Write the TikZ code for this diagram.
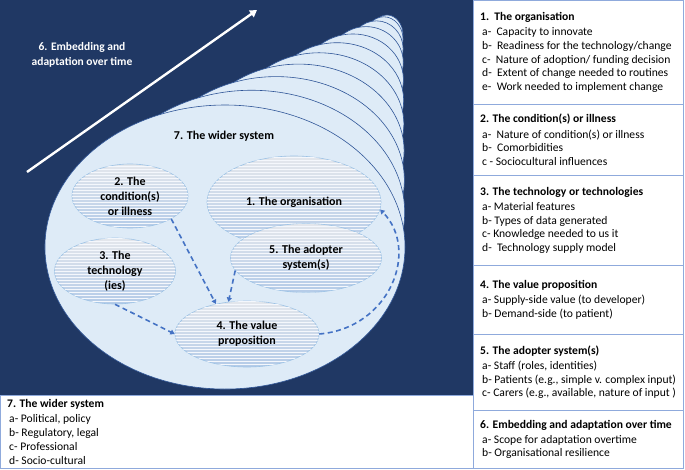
\documentclass[tikz,border=0pt]{standalone}
\usepackage{fontspec}
\setmainfont{Carlito}
\usetikzlibrary{shapes.geometric}
\usetikzlibrary{arrows.meta}
\usetikzlibrary{patterns}

\definecolor{navy}{HTML}{203864}
\definecolor{conefill}{HTML}{DEEBF7}
\definecolor{coneline}{HTML}{2F5597}
\definecolor{factorline}{HTML}{9DC3E6}
\definecolor{factortop}{HTML}{E4E7EC}
\definecolor{factorbot}{HTML}{B4CBE8}
\definecolor{linkblue}{HTML}{4472C4}
\definecolor{boxline}{HTML}{8FAADC}

\tikzset{
  cone/.style={fill=conefill, draw=coneline, line width=0.6pt},
  factor/.style={ellipse, draw=factorline, line width=0.6pt, top color=factortop, bottom color=factorbot,
    postaction={pattern=horizontal lines, pattern color=white!85!factorbot}, inner sep=0pt, align=center,
    font=\fontsize{12}{15}\selectfont\bfseries},
  link/.style={draw=linkblue, line width=1.6pt, dash pattern=on 5pt off 3.5pt},
  infobox/.style={draw=boxline, line width=0.8pt, fill=white, anchor=north west, inner sep=0pt},
  infotext/.style={anchor=west, align=left, inner sep=0pt, font=\fontsize{11.6}{13.7}\selectfont},
}

\begin{document}
\begin{tikzpicture}[x=1pt, y=-1pt]

            %\draw [help lines] (0,0) grid (685,470);
            \useasboundingbox (0,0) rectangle (685,470);

            \fill[navy] (0,0) rectangle (473,395);

            % the cone, back to front
            \foreach \i in {10,...,0} {
                \pgfmathsetmacro{\t}{1-((10.001-\i)/10)^1.7}
                \draw[cone] ({225+162*\t},{247-212*\t}) ellipse [x radius={180-164*\t}, y radius={142-122*\t}];
            }

            \path   (224,136) node (wider) [font=\fontsize{12}{15}\selectfont\bfseries] {7. The wider system}
                    (82,55) node (embed) [white, align=center, font=\fontsize{11.5}{15}\selectfont\bfseries] {6. Embedding and\\adaptation over time}
                    (130,196) node (cond) [factor, minimum width=116, minimum height=64] {2. The\\condition(s)\\or illness}
                    (115,271) node (tech) [factor, minimum width=121, minimum height=66] {3. The\\technology\\(ies)}
                    (294,202) node (org) [factor, minimum width=174, minimum height=92] {1. The organisation}
                    (306,258) node (adopt) [factor, minimum width=151, minimum height=69] {5. The adopter\\system(s)}
                    (247,334) node (value) [factor, minimum width=144, minimum height=66] {4. The value\\proposition};

            \coordinate (tstart) at (27,172);
            \coordinate (tend) at (257,10);
            \draw[arrows = -{Triangle[angle=60:8pt]}, white, line width=2.4pt] (tstart) -- (tend);

            \draw[link, arrows = -{Triangle[angle=60:5pt]}] (cond.south east) -- (value.136);
            \draw[link, arrows = -{Triangle[angle=60:5pt]}] (adopt.190) -- (value.120);
            \draw[link, arrows = -{Triangle[angle=60:5pt]}] (tech.south) -- (value.west);
            \draw[link, arrows = -{Triangle[angle=60:5pt]}] (value.east) .. controls (390,328) and (420,250) .. (org.-5);

            % the lists
            \path   (473,0) node (box1) [infobox, minimum width=210, minimum height=104] {}
                    (473,104) node (box2) [infobox, minimum width=210, minimum height=71] {}
                    (473,175) node (box3) [infobox, minimum width=210, minimum height=90] {}
                    (473,265) node (box4) [infobox, minimum width=210, minimum height=69] {}
                    (473,334) node (box5) [infobox, minimum width=210, minimum height=76] {}
                    (473,410) node (box6) [infobox, minimum width=210, minimum height=58] {}
                    (0,395) node (box7) [infobox, minimum width=473, minimum height=73] {};

            \node (list1) [infotext] at ([xshift=7pt]box1.west) {\textbf{1.\ \ The organisation}\\[1.4pt]
                \hspace{2pt}a-\ \ Capacity to innovate\\
                \hspace{2pt}b-\ \ Readiness for the technology/change\\
                \hspace{2pt}c-\ \ Nature of adoption/ funding decision\\
                \hspace{2pt}d-\ \ Extent of change needed to routines\\
                \hspace{2pt}e-\ \ Work needed to implement change};
            \node (list2) [infotext] at ([xshift=7pt]box2.west) {\textbf{2. The condition(s) or illness}\\[1.4pt]
                \hspace{2pt}a-\ \ Nature of condition(s) or illness\\
                \hspace{2pt}b-\ \ Comorbidities\\
                \hspace{2pt}c - Sociocultural influences};
            \node (list3) [infotext] at ([xshift=7pt]box3.west) {\textbf{3. The technology or technologies}\\[1.4pt]
                \hspace{2pt}a- Material features\\
                \hspace{2pt}b- Types of data generated\\
                \hspace{2pt}c- Knowledge needed to us it\\
                \hspace{2pt}d-\ \ Technology supply model};
            \node (list4) [infotext] at ([xshift=7pt]box4.west) {\textbf{4. The value proposition}\\[1.4pt]
                \hspace{2pt}a- Supply-side value (to developer)\\
                \hspace{2pt}b- Demand-side (to patient)};
            \node (list5) [infotext] at ([xshift=7pt]box5.west) {\textbf{5. The adopter system(s)}\\[1.4pt]
                \hspace{2pt}a- Staff (roles, identities)\\
                \hspace{2pt}b- Patients (e.g., simple v. complex input)\\
                \hspace{2pt}c- Carers (e.g., available, nature of input )};
            \node (list6) [infotext] at ([xshift=7pt]box6.west) {\textbf{6. Embedding and adaptation over time}\\[1.4pt]
                \hspace{2pt}a- Scope for adaptation overtime\\
                \hspace{2pt}b- Organisational resilience};
            \node (list7) [infotext] at ([xshift=7pt]box7.west) {\textbf{7. The wider system}\\[1.4pt]
                \hspace{2pt}a- Political, policy\\
                \hspace{2pt}b- Regulatory, legal\\
                \hspace{2pt}c- Professional\\
                \hspace{2pt}d- Socio-cultural};

\end{tikzpicture}
\end{document}
